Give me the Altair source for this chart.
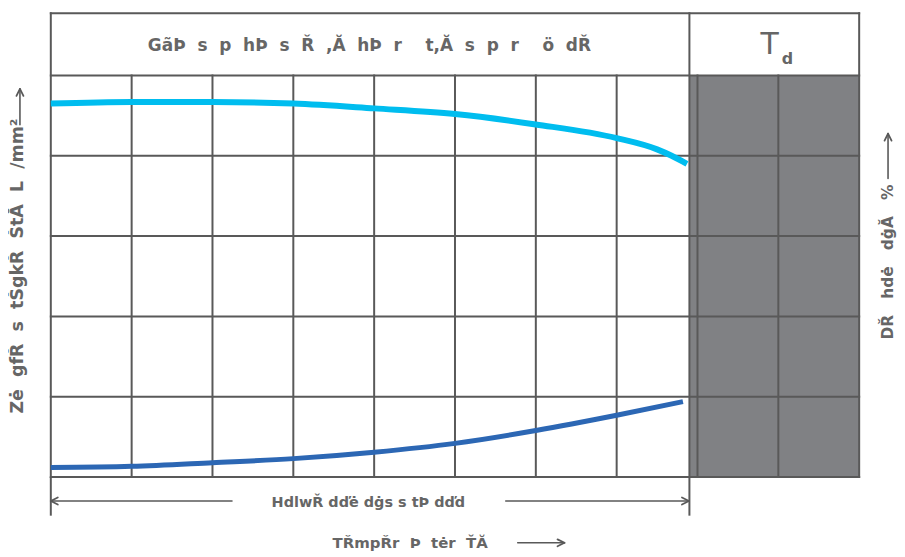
import altair as alt
import pandas as pd

# ---- data ----
grid_x = [0, 1, 2, 3, 4, 5, 6, 7, 8, 9, 10]
grid_y = [0, 1, 2, 3, 4, 5]
header_top = 5.775
divider_x = 7.9

light_x = [0, 1, 2, 3, 4, 5, 6, 7, 7.5, 7.68, 7.87]
light_y = [4.65, 4.67, 4.67, 4.65, 4.59, 4.52, 4.39, 4.22, 4.08, 4.0, 3.90]
dark_x = [0, 1, 2, 3, 4, 5, 6, 7, 7.82]
dark_y = [0.12, 0.135, 0.18, 0.23, 0.31, 0.42, 0.58, 0.77, 0.94]

header_text = "GãÞ  s  p  hÞ  s  Ř  ,Ă  hÞ  r    t,Ă  s  p  r    ö  dŘ"
td_main = "T"
td_sub = "d"
left_title = "Zė  gfŘ  s  tŠgkŘ  ŠtĂ  L  /mm²"
right_title = "DŘ   hdė   dġĂ   %"
span_text = "HdlwŘ dďė dġs s tÞ dďd"
bottom_title = "TŘmpŘr  Þ  tėr  ŤĂ"


def keep_spaces(s):
    # SVG collapses runs of spaces; keep them with no-break spaces
    return s.replace("  ", " \u00a0")


W, H = 812, 466
FONT = "DejaVu Sans"
TXT = "#666666"
LINE = "#595959"

xs = alt.Scale(domain=[0, 10], nice=False, zero=False)
ys = alt.Scale(domain=[0, header_top], nice=False, zero=False)

one = alt.Data(values=[{"a": 1}])

# gray region
gray_df = pd.DataFrame({"x": [divider_x], "x2": [10], "y": [0], "y2": [5]})
gray = alt.Chart(gray_df).mark_rect(color="#808184").encode(
    x=alt.X("x:Q", scale=xs, axis=None), x2="x2:Q",
    y=alt.Y("y:Q", scale=ys, axis=None), y2="y2:Q")

# vertical lines
v_df = pd.DataFrame({
    "x": grid_x + [divider_x],
    "y0": [0] * (len(grid_x) + 1),
    "y1": [header_top if g in (0, 10) else 5 for g in grid_x] + [header_top],
})
vlines = alt.Chart(v_df).mark_rule(color=LINE, strokeWidth=2, strokeCap="square").encode(
    x=alt.X("x:Q", scale=xs, axis=None),
    y=alt.Y("y0:Q", scale=ys, axis=None), y2="y1:Q")

h_df = pd.DataFrame({"y": grid_y + [header_top], "x0": 0, "x1": 10})
hlines = alt.Chart(h_df).mark_rule(color=LINE, strokeWidth=2, strokeCap="square").encode(
    y=alt.Y("y:Q", scale=ys, axis=None),
    x=alt.X("x0:Q", scale=xs, axis=None), x2="x1:Q")

# bottom span ticks
t_df = pd.DataFrame({"x": [0, divider_x], "y0": [0, 0], "y1": [-0.48, -0.48]})
ticks = alt.Chart(t_df).mark_rule(color=LINE, strokeWidth=2).encode(
    x=alt.X("x:Q", scale=xs, axis=None),
    y=alt.Y("y0:Q", scale=ys, axis=None), y2="y1:Q")

# curves
light_df = pd.DataFrame({"x": light_x, "y": light_y})
dark_df = pd.DataFrame({"x": dark_x, "y": dark_y})
light = alt.Chart(light_df).mark_line(color="#00BDEF", strokeWidth=6, interpolate="monotone", strokeCap="butt").encode(
    x=alt.X("x:Q", scale=xs, axis=None), y=alt.Y("y:Q", scale=ys, axis=None))
dark = alt.Chart(dark_df).mark_line(color="#2C67B4", strokeWidth=5, interpolate="monotone", strokeCap="butt").encode(
    x=alt.X("x:Q", scale=xs, axis=None), y=alt.Y("y:Q", scale=ys, axis=None))


def label(text, x, y, size, angle=0, weight="bold", color=TXT):
    return alt.Chart(one).mark_text(text=keep_spaces(text), font=FONT, fontSize=size, fontWeight=weight,
                                    color=color, angle=angle, align="center", baseline="middle").encode(
        x=alt.value(x), y=alt.value(y))


def seg(x1, x2, y1, y2, w=1.6):
    return alt.Chart(one).mark_rule(color=LINE, strokeWidth=w, strokeCap="round").encode(
        x=alt.value(x1), x2=alt.value(x2), y=alt.value(y1), y2=alt.value(y2))


def head(x, y, dx, dy):
    # chevron arrow head with its tip at (x, y), pointing along (dx, dy)
    L, Wd = 7, 3.5
    bx, by = x - dx * L, y - dy * L
    px, py = -dy * Wd, dx * Wd
    return [seg(bx + px, x, by + py, y, 1.8), seg(bx - px, x, by - py, y, 1.8)]


layers = [
    gray, vlines, hlines, ticks, light, dark,
    label(header_text, 320, 33, 17),
    label(td_main, 722, 32, 30, weight="normal"),
    label(td_sub, 740, 46, 16),
    # span arrow
    seg(0, 182, 490, 490), seg(457, 641, 490, 490),
    *head(0, 490, -1, 0), *head(641, 490, 1, 0),
    label(span_text, 319, 492, 14.5),
    # bottom title
    label(bottom_title, 361, 532, 15),
    seg(469, 515, 532, 532), *head(516, 532, 1, 0),
    # left title
    label(left_title, -33, 254, 17.5, angle=270),
    seg(-31, -31, 112, 77), *head(-31, 76, 0, -1),
    # right title
    label(right_title, 841, 250, 15.5, angle=270),
    seg(841, 841, 166, 122), *head(841, 121, 0, -1),
]

chart = alt.layer(*layers).properties(
    width=W, height=H,
    autosize=alt.AutoSizeParams(type="none"),
    padding={"left": 43, "top": 4, "right": 38, "bottom": 74},
).configure_view(stroke=None)

chart.save("out.html", embed_options={"renderer": "svg", "actions": False})
